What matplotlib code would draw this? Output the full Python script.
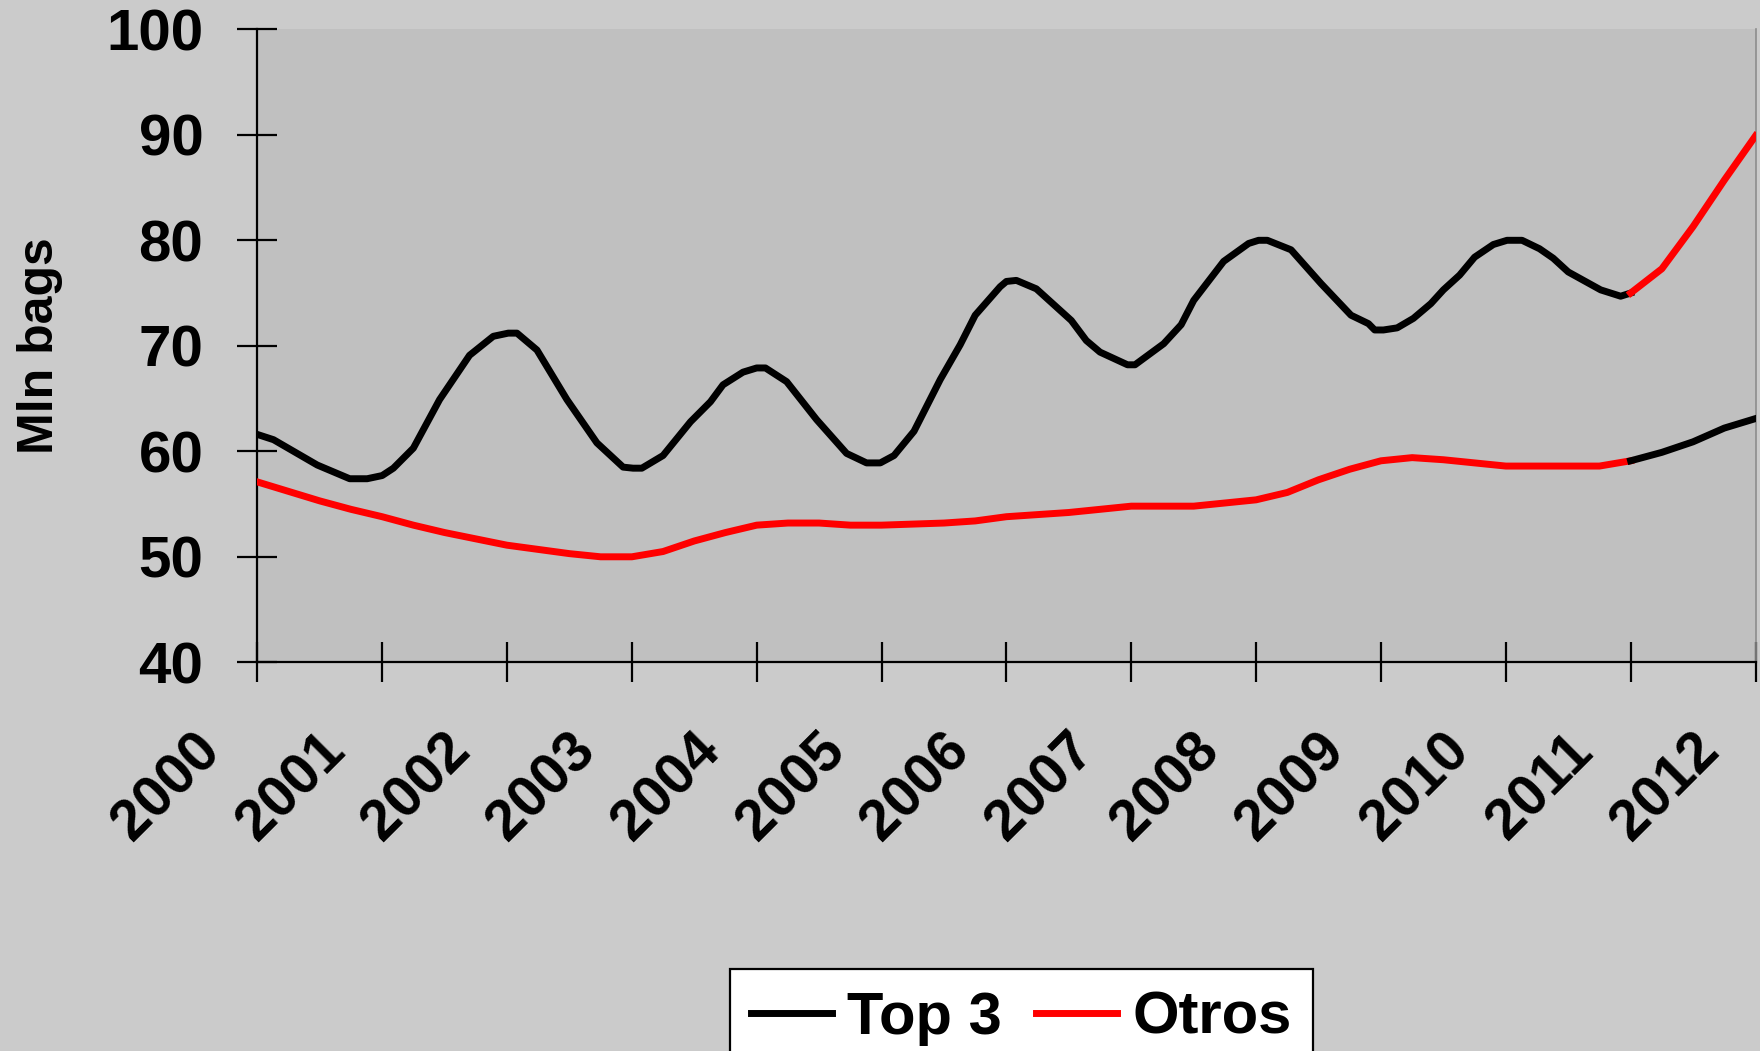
import matplotlib
matplotlib.use("Agg")
import matplotlib.pyplot as plt
import matplotlib.transforms as mtransforms

# ---- data ----
years = list(range(2000, 2013))
year_labels = [str(y) for y in years]

top3_t = [2000.0, 2000.13, 2000.48, 2000.74, 2000.88, 2001.0, 2001.09, 2001.25, 2001.46, 2001.70,
          2001.89, 2002.01, 2002.08, 2002.24, 2002.48, 2002.72, 2002.93, 2003.01, 2003.08, 2003.25,
          2003.47, 2003.63, 2003.73, 2003.89, 2004.0, 2004.07, 2004.24, 2004.48, 2004.72, 2004.88,
          2004.99, 2005.10, 2005.26, 2005.47, 2005.63, 2005.75, 2005.95, 2006.0, 2006.08, 2006.24,
          2006.52, 2006.64, 2006.75, 2006.97, 2007.03, 2007.26, 2007.40, 2007.50, 2007.74, 2007.94,
          2008.02, 2008.09, 2008.28, 2008.52, 2008.76, 2008.90, 2008.95, 2009.02, 2009.13, 2009.26,
          2009.40, 2009.50, 2009.63, 2009.75, 2009.90, 2010.01, 2010.13, 2010.27, 2010.38, 2010.50,
          2010.76, 2010.92, 2011.0]
top3_v = [61.6, 61.1, 58.7, 57.4, 57.4, 57.7, 58.4, 60.3, 64.9, 69.1,
          70.9, 71.2, 71.2, 69.6, 64.9, 60.8, 58.5, 58.4, 58.4, 59.6,
          62.8, 64.7, 66.3, 67.5, 67.9, 67.9, 66.6, 63.0, 59.8, 58.9,
          58.9, 59.6, 61.9, 66.8, 70.1, 72.9, 75.6, 76.1, 76.2, 75.4,
          72.4, 70.5, 69.4, 68.2, 68.2, 70.2, 72.0, 74.3, 78.0, 79.7,
          80.0, 80.0, 79.1, 75.9, 72.9, 72.1, 71.5, 71.5, 71.7, 72.6,
          74.0, 75.3, 76.7, 78.4, 79.6, 80.0, 80.0, 79.2, 78.3, 77.0,
          75.3, 74.7, 75.0]

otros_t = [2000.0, 2000.25, 2000.5, 2000.75, 2001.0, 2001.25, 2001.5, 2001.75, 2002.0, 2002.25,
           2002.5, 2002.75, 2003.0, 2003.25, 2003.5, 2003.75, 2004.0, 2004.25, 2004.5, 2004.75,
           2005.0, 2005.25, 2005.5, 2005.75, 2006.0, 2006.25, 2006.5, 2006.75, 2007.0, 2007.25,
           2007.5, 2007.75, 2008.0, 2008.25, 2008.5, 2008.75, 2009.0, 2009.25, 2009.5, 2009.75,
           2010.0, 2010.25, 2010.5, 2010.75, 2011.0]
otros_v = [57.1, 56.2, 55.3, 54.5, 53.8, 53.0, 52.3, 51.7, 51.1, 50.7,
           50.3, 50.0, 50.0, 50.5, 51.5, 52.3, 53.0, 53.2, 53.2, 53.0,
           53.0, 53.1, 53.2, 53.4, 53.8, 54.0, 54.2, 54.5, 54.8, 54.8,
           54.8, 55.1, 55.4, 56.1, 57.3, 58.3, 59.1, 59.4, 59.2, 58.9,
           58.6, 58.6, 58.6, 58.6, 59.1]

ext_t = [2011.0, 2011.25, 2011.5, 2011.75, 2012.0]
black_ext_v = [59.1, 59.9, 60.9, 62.2, 63.1]
red_ext_v = [75.0, 77.3, 81.3, 85.7, 89.9]

y_ticks = [40, 50, 60, 70, 80, 90, 100]

# ---- style ----
plt.rcParams['font.family'] = ['Liberation Sans', 'DejaVu Sans']
plt.rcParams['font.weight'] = 'bold'

W, H = 1760, 1051
fig = plt.figure(figsize=(W / 100, H / 100), dpi=100, facecolor='#cbcbcb')
left, right = 257.3 / W, 1755.5 / W
bottom, top = 1 - 662.3 / H, 1 - 29.3 / H
ax = fig.add_axes([left, bottom, right - left, top - bottom])
ax.set_facecolor('#c0c0c0')

lw = 5.0
l1, = ax.plot(top3_t, top3_v, color='black', lw=lw, solid_joinstyle='round', label='Top 3', zorder=3)
l2, = ax.plot(otros_t, otros_v, color='#ff0000', lw=lw, solid_joinstyle='round', label='Otros', zorder=3)
ax.plot(ext_t, black_ext_v, color='black', lw=lw, solid_joinstyle='round', zorder=3)
ax.plot(ext_t, red_ext_v, color='#ff0000', lw=lw, solid_joinstyle='round', zorder=3)

ax.set_xlim(2000, 2012)
ax.set_ylim(40, 100)
ax.set_yticks(y_ticks)
ax.set_yticklabels([str(v) for v in y_ticks], fontsize=42, fontweight='bold')
ax.set_xticks(years)
ax.set_xticklabels(year_labels, fontsize=41, fontweight='bold', rotation=45,
                   ha='center', va='center', rotation_mode='anchor')

ax.spines['top'].set_visible(False)
ax.spines['right'].set_color('#8c8c8c')
ax.spines['right'].set_linewidth(1.2)
for s in ['left', 'bottom']:
    ax.spines[s].set_linewidth(1.6)
    ax.spines[s].set_color('black')

ax.tick_params(axis='both', direction='inout', length=28.8, width=1.6, color='black')
ax.tick_params(axis='y', pad=24.5)
ax.tick_params(axis='x', pad=0)

off = mtransforms.ScaledTranslation(-90 / 100, -105 / 100, fig.dpi_scale_trans)
for lab in ax.get_xticklabels():
    lab.set_transform(lab.get_transform() + off)

fig.text(40 / W, 1 - 345.8 / H, 'Mln bags', rotation=90, ha='center', va='center',
         fontsize=36, fontweight='bold')

leg = fig.legend(handles=[l1, l2], labels=['Top 3', 'Otros'], loc='upper center',
                 bbox_to_anchor=(1021.5 / W, 1 - 969 / H), ncol=2, frameon=True, fancybox=False,
                 fontsize=43, handlelength=1.36, handletextpad=0.25, columnspacing=0.57,
                 borderpad=0.36, borderaxespad=0)
leg.get_frame().set_facecolor('white')
leg.get_frame().set_edgecolor('black')
leg.get_frame().set_linewidth(1.6)
leg.get_frame().set_alpha(1)
for t in leg.get_texts():
    t.set_fontweight('bold')

fig.savefig('out.png', dpi=100, facecolor=fig.get_facecolor())
